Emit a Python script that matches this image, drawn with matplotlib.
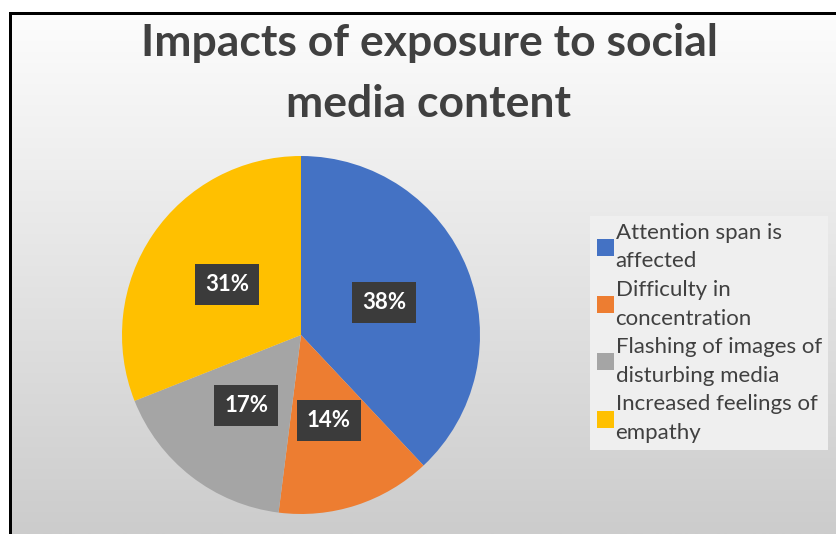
import numpy as np
import matplotlib.pyplot as plt
from matplotlib.patches import Rectangle

labels = ['Attention span is\naffected', 'Difficulty in\nconcentration',
          'Flashing of images of\ndisturbing media', 'Increased feelings of\nempathy']
values = [38, 14, 17, 31]
colors = ['#4472c4', '#ed7d31', '#a5a5a5', '#ffc000']
title_lines = ['Impacts of exposure to social', 'media content']

W, H = 837, 534
fig = plt.figure(figsize=(W / 100, H / 100), dpi=100)
fig.patch.set_facecolor('white')

# background gradient of the chart area
bg = fig.add_axes([11 / W, 0, 1 - 11 / W, 1 - 14 / H])
grad = np.linspace(0.99, 0.80, 256).reshape(-1, 1)
bg.imshow(np.dstack([grad, grad, grad]), aspect='auto', extent=[0, 1, 0, 1])
bg.set_xlim(0, 1), bg.set_ylim(0, 1)
bg.axis('off')

# black frame (left and top)
fig.add_artist(Rectangle((9 / W, 0), 3 / W, 1 - 12 / H, transform=fig.transFigure,
                         color='black', lw=0))
fig.add_artist(Rectangle((9 / W, 1 - 15 / H), 1, 3 / H, transform=fig.transFigure,
                         color='black', lw=0))

# title, one text per line
for line, base in zip(title_lines, [56, 117]):
    fig.text(429 / W, 1 - base / H, line, ha='center', va='baseline', fontsize=32,
             family='Lato', weight='bold', color='#404040')

cx, cy, r = 301, 335, 179
ax = fig.add_axes([(cx - r) / W, (H - cy - r) / H, 2 * r / W, 2 * r / H])
wedges, _, autotexts = ax.pie(values, colors=colors, startangle=90, counterclock=False,
                              autopct='%d%%', pctdistance=0.5,
                              wedgeprops=dict(linewidth=0))
for t in autotexts:
    t.set_color('white')
    t.set_fontsize(16)
    t.set_fontweight('bold')
    t.set_family('Lato')
    t.set_bbox(dict(facecolor='#3b3b3b', edgecolor='none', boxstyle='square,pad=0.45'))
ax.set_xlim(-1, 1), ax.set_ylim(-1, 1)
ax.set_aspect('auto')

leg = fig.legend(wedges, labels, loc='upper left', bbox_to_anchor=(590 / W, 1 - 216 / H),
                 frameon=True, fancybox=False, facecolor='#efefef', edgecolor='none',
                 framealpha=1, prop=dict(family='Lato', size=16),
                 handlelength=0.8, handleheight=0.8, handletextpad=0.05,
                 labelspacing=0.38, borderpad=0.3, borderaxespad=0)
for t in leg.get_texts():
    t.set_color('#404040')
    t.set_linespacing(1.55)

fig.savefig('out.png', dpi=100)
